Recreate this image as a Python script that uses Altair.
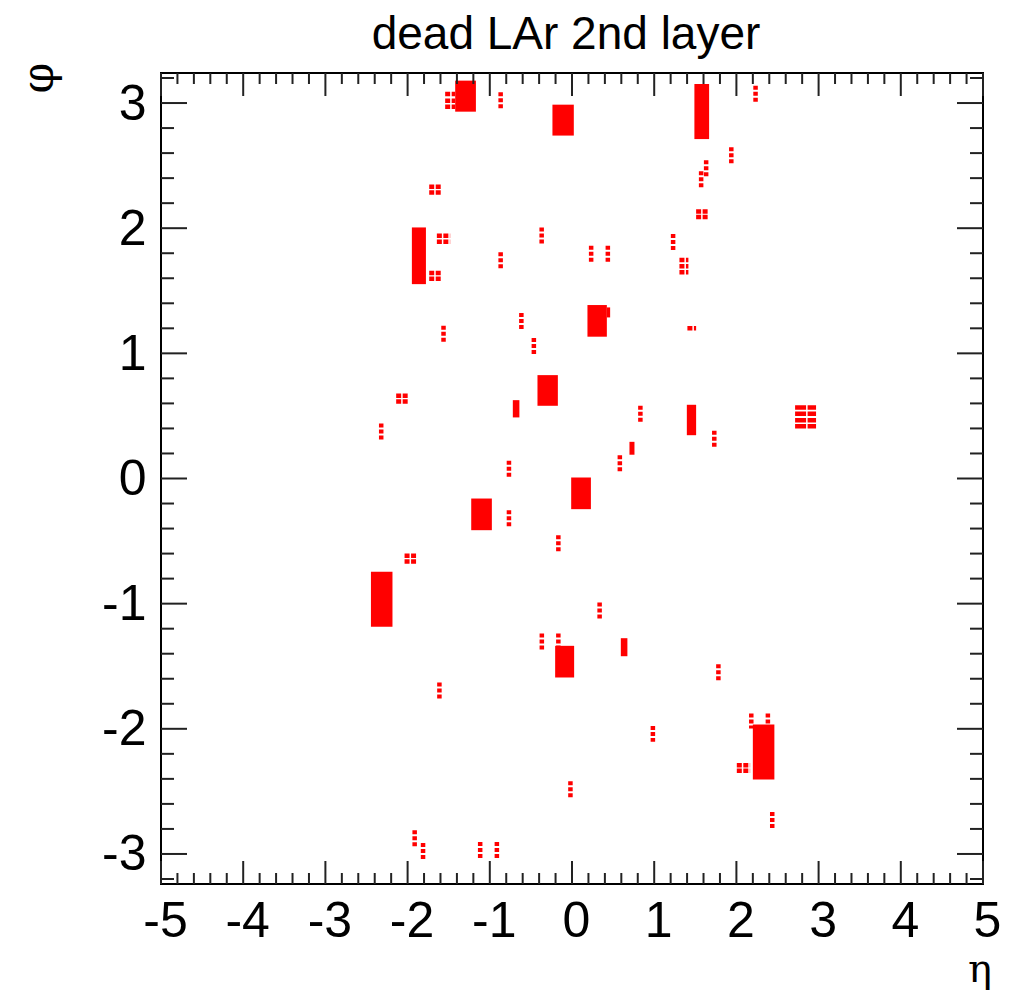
import altair as alt
import pandas as pd

TITLE = "dead LAr 2nd layer"
X_TITLE = "η"
Y_TITLE = "φ"

X_LABELS = [-5, -4, -3, -2, -1, 0, 1, 2, 3, 4, 5]
Y_LABELS = [-3, -2, -1, 0, 1, 2, 3]

# Large blocks of dead cells (eta range, phi range)
blk_eta0 = [-1.421, -0.238, 1.489, -1.948, 0.188, 0.424, -0.42, 1.397, -0.01, -1.226, -0.205, -2.446, 2.20, -0.72, 0.699, 0.594]
blk_eta1 = [-1.169, 0.022, 1.668, -1.777, 0.424, 0.464, -0.172, 1.51, 0.23, -0.975, 0.026, -2.184, 2.462, -0.64, 0.76, 0.674]
blk_phi0 = [2.931, 2.740, 2.712, 1.553, 1.133, 1.287, 0.581, 0.346, -0.245, -0.413, -1.59, -1.185, -2.406, 0.488, 0.19, -1.42]
blk_phi1 = [3.179, 2.987, 3.152, 2.006, 1.386, 1.367, 0.826, 0.589, 0.008, -0.16, -1.337, -0.746, -1.966, 0.626, 0.293, -1.276]

# Vertical strings of dead cells (eta, top phi, bottom phi)
col_eta = [-2.321, -0.868, 2.233, 1.938, 1.632, 1.571, -0.369, -0.868, 0.233, 0.436, 1.230,
           -1.563, -0.616, -0.464, 0.832, 0.582, -0.767, 1.731, -1.914, -1.812, -0.767,
           -0.166, 0.336, -0.367, -0.166, -1.613, 0.984, -0.019, -1.117, -0.914, 1.781,
           2.181, 2.383, 2.436]
col_hi = [0.440, 3.086, 3.139, 2.646, 2.542, 2.454, 2.006, 1.807, 1.860, 1.860, 1.953,
          1.220, 1.322, 1.122, 0.581, 0.186, 0.142, 0.382, -2.811, -2.912, -0.253,
          -0.453, -0.991, -1.239, -1.239, -1.630, -1.977, -2.419, -2.904, -2.904, -1.484,
          -1.878, -1.878, -2.664]
col_lo = [0.296, 2.952, 3.000, 2.513, 2.414, 2.318, 1.871, 1.665, 1.727, 1.727, 1.820,
          1.082, 1.181, 0.981, 0.448, 0.053, 0.000, 0.248, -2.944, -3.045, -0.391,
          -0.591, -1.124, -1.380, -1.359, -1.764, -2.104, -2.552, -3.043, -3.043, -1.612,
          -1.998, -1.998, -2.792]

# Horizontal rows of dead cells (eta from, eta to, phi)
row_eta0 = [-1.543, -1.543, -1.543, -1.737, -1.737, -1.737, -1.737, -1.644, -1.644,
            -2.139, -2.139, 1.51, 1.51, 1.307, 1.307, 1.307, 1.404, -2.037, -2.037, 2.005, 2.005]
row_eta1 = [-1.421, -1.421, -1.421, -1.591, -1.591, -1.591, -1.591, -1.482, -1.482,
            -1.992, -1.992, 1.668, 1.668, 1.416, 1.416, 1.416, 1.51, -1.887, -1.887, 2.167, 2.167]
row_phi = [3.072, 3.019, 2.971, 2.332, 2.286, 1.641, 1.596, 1.940, 1.892,
           0.661, 0.616, 2.134, 2.089, 1.745, 1.695, 1.647, 1.200, -0.618, -0.663, -2.292, -2.336]

# Wide rows (block near eta 2.85)
wrow_eta0 = [2.714, 2.714, 2.714, 2.714]
wrow_eta1 = [2.969, 2.969, 2.969, 2.969]
wrow_phi = [0.568, 0.517, 0.466, 0.418]

X_MAJOR = X_LABELS
X_MINOR = [round(-5 + 0.2 * i, 1) for i in range(51) if i % 5 != 0]
Y_MAJOR = Y_LABELS
Y_MINOR = [round(-3.2 + 0.2 * i, 1) for i in range(33) if (i - 1) % 5 != 0]

W, H = 822, 811
RED = "#ff0000"
TICK = "#222222"
FONT = "Liberation Sans"
SERIF = "DejaVu Serif"

xscale = alt.Scale(domain=[-5, 5], nice=False, zero=False)
yscale = alt.Scale(domain=[-3.24, 3.24], nice=False, zero=False)
lexpr = "datum.value < 0 ? '-' + format(-datum.value, 'd') : format(datum.value, 'd')"
xax = alt.Axis(values=X_LABELS, ticks=False, domain=False, grid=False, title=None,
               labelFontSize=50, labelFont=FONT, labelColor="black", labelPadding=12,
               labelFlush=False, labelOverlap=False, labelOffset=4, labelExpr=lexpr)
yax = alt.Axis(values=Y_LABELS, ticks=False, domain=False, grid=False, title=None,
               labelFontSize=50, labelFont=FONT, labelColor="black", labelPadding=15,
               labelFlush=False, labelOverlap=False, labelOffset=1, labelExpr=lexpr)

blocks = pd.DataFrame({"e0": blk_eta0, "e1": blk_eta1, "p0": blk_phi0, "p1": blk_phi1})
cols = pd.DataFrame({"e": col_eta, "hi": col_hi, "lo": col_lo})
rows = pd.DataFrame({"e0": row_eta0, "e1": row_eta1, "p": row_phi})
wrows = pd.DataFrame({"e0": wrow_eta0, "e1": wrow_eta1, "p": wrow_phi})

l_blocks = alt.Chart(blocks).mark_rect(color=RED).encode(
    x=alt.X("e0:Q", scale=xscale, axis=xax), x2="e1:Q",
    y=alt.Y("p0:Q", scale=yscale, axis=yax), y2="p1:Q")

l_cols = alt.Chart(cols).mark_rule(color=RED, strokeWidth=4.5, strokeDash=[4, 2], strokeCap="butt").encode(
    x=alt.X("e:Q", scale=xscale, axis=xax),
    y=alt.Y("hi:Q", scale=yscale, axis=yax), y2="lo:Q")

l_rows = alt.Chart(rows).mark_rule(color=RED, strokeWidth=4.5, strokeDash=[5, 1.5], strokeCap="butt").encode(
    x=alt.X("e0:Q", scale=xscale, axis=xax), x2="e1:Q",
    y=alt.Y("p:Q", scale=yscale, axis=yax))

l_wrows = alt.Chart(wrows).mark_rule(color=RED, strokeWidth=4.5, strokeDash=[11, 1.5], strokeCap="butt").encode(
    x=alt.X("e0:Q", scale=xscale, axis=xax), x2="e1:Q",
    y=alt.Y("p:Q", scale=yscale, axis=yax))

def xticks(vals, length):
    d = pd.DataFrame({"v": vals})
    base = alt.Chart(d).mark_rule(color=TICK, strokeWidth=2)
    bot = base.encode(x=alt.X("v:Q", scale=xscale, axis=xax), y=alt.value(H), y2=alt.value(H - length))
    top = base.encode(x=alt.X("v:Q", scale=xscale, axis=xax), y=alt.value(0), y2=alt.value(length))
    return [bot, top]

def yticks(vals, length):
    d = pd.DataFrame({"v": vals})
    base = alt.Chart(d).mark_rule(color=TICK, strokeWidth=2)
    left = base.encode(y=alt.Y("v:Q", scale=yscale, axis=yax), x=alt.value(0), x2=alt.value(length))
    right = base.encode(y=alt.Y("v:Q", scale=yscale, axis=yax), x=alt.value(W), x2=alt.value(W - length))
    return [left, right]

tick_layers = xticks(X_MAJOR, 23) + xticks(X_MINOR, 11) + yticks(Y_MAJOR, 26) + yticks(Y_MINOR, 13)

t_title = alt.Chart(pd.DataFrame({"t": [TITLE]})).mark_text(
    font=FONT, fontSize=46, color="black", align="center", baseline="alphabetic").encode(
    text="t:N", x=alt.value(405), y=alt.value(-24))
t_x = alt.Chart(pd.DataFrame({"t": [X_TITLE]})).mark_text(
    font=SERIF, fontSize=40, color="black", align="center", baseline="alphabetic").encode(
    text="t:N", x=alt.value(819), y=alt.value(909))
t_y = alt.Chart(pd.DataFrame({"t": [Y_TITLE]})).mark_text(
    font=SERIF, fontSize=44, color="black", align="center", baseline="middle", angle=270).encode(
    text="t:N", x=alt.value(-121), y=alt.value(5))

chart = alt.layer(l_blocks, l_cols, l_rows, l_wrows, *tick_layers, t_title, t_x, t_y).properties(
    width=W, height=H,
    padding={"left": 161, "top": 73, "right": 28, "bottom": 110},
    autosize=alt.AutoSizeParams(type="none"),
    background="white",
).configure_view(stroke="black", strokeWidth=2)

chart.save("out.html", embed_options={"renderer": "svg", "actions": False})
